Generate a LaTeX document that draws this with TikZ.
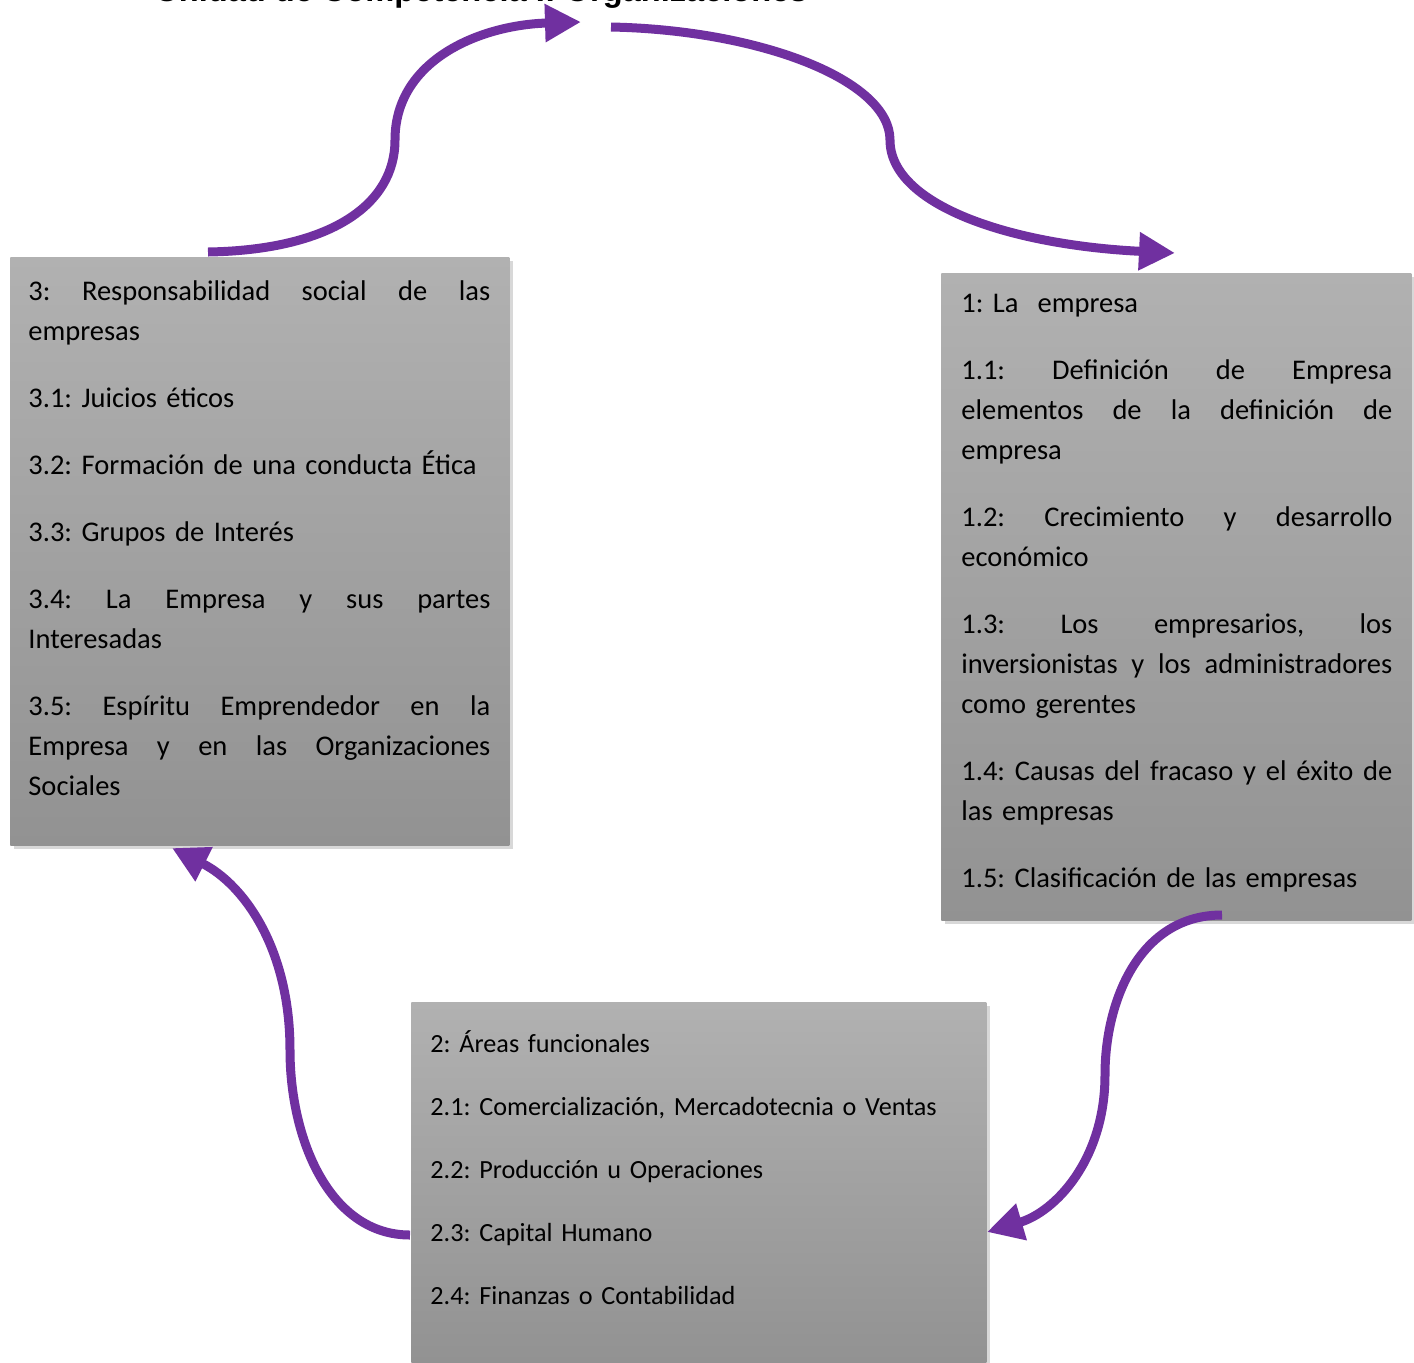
\documentclass[tikz,border=0pt]{standalone}
\usepackage{fontspec}
\setmainfont{Carlito}
\newfontfamily\titlefont{Liberation Sans}
\usetikzlibrary{arrows.meta,shadows}
\definecolor{arrowpurple}{HTML}{7030A0}
\definecolor{boxtop}{HTML}{B1B1B1}
\definecolor{boxbot}{HTML}{929292}
\newcommand{\jl}[2]{\makebox[#1][l]{\spaceskip=0.226em plus 1fill\relax#2}}
\begin{document}
\frenchspacing
\begin{tikzpicture}[x=0.5pt,y=-0.5pt,
  graybox/.style={draw=none, top color=boxtop, bottom color=boxbot, inner sep=0pt, anchor=north west,
    drop shadow={shadow xshift=2pt, shadow yshift=-2pt, opacity=0.3}},
  boxtext/.style={anchor=north west, inner sep=0pt, align=left, font=\fontsize{14.25}{20}\selectfont\frenchspacing},
  cyc/.style={draw=arrowpurple, line width=4.5pt, -{Triangle[length=18pt,width=18pt]}}]
\useasboundingbox (0,0) rectangle (1414,1362);
\fill[white] (0,0) rectangle (1414,1362);
% title (cut off at the top edge)
\node[anchor=base west, inner sep=0pt, font=\titlefont\bfseries\fontsize{16.3}{16}\selectfont] (title) at (155,1) {Unidad de Competencia I: Organizaciones};
% boxes
\node[graybox, minimum width=249.5pt, minimum height=294pt] (b3) at (10,257) {};
\node[graybox, minimum width=235pt, minimum height=323.5pt] (b1) at (941,273) {};
\node[graybox, minimum width=287.5pt, minimum height=180pt] (b2) at (411,1002) {};
% texts
\node[boxtext, text width=232pt] (t3) at (28,272) {\rule{0pt}{14pt}\jl{231pt}{3: Responsabilidad social de las}\\
empresas\\[13.5pt]
3.1: Juicios éticos\\[13.5pt]
3.2: Formación de una conducta Ética\\[13.5pt]
3.3: Grupos de Interés\\[13.5pt]
\jl{231pt}{3.4: La Empresa y sus partes}\\
Interesadas\\[13.5pt]
\jl{231pt}{3.5: Espíritu Emprendedor en la}\\
\jl{231pt}{Empresa y en las Organizaciones}\\
Sociales};
\node[boxtext, text width=216.5pt] (t1) at (961,284) {\rule{0pt}{14pt}1: La~ empresa\\[13.5pt]
\jl{215.5pt}{1.1: Definición de Empresa}\\
\jl{215.5pt}{elementos de la definición de}\\
empresa\\[13.5pt]
\jl{215.5pt}{1.2: Crecimiento y desarrollo}\\
económico\\[13.5pt]
\jl{215.5pt}{1.3: Los empresarios, los}\\
\jl{215.5pt}{inversionistas y los administradores}\\
como gerentes\\[13.5pt]
\jl{215.5pt}{1.4: Causas del fracaso y el éxito de}\\
las empresas\\[13.5pt]
1.5: Clasificación de las empresas};
\node[boxtext, text width=270pt, font=\fontsize{13.1}{31.5}\selectfont\frenchspacing] (t2) at (430,1024) {\rule{0pt}{14pt}2: Áreas funcionales\\
2.1: Comercialización, Mercadotecnia o Ventas\\
2.2: Producción u Operaciones\\
2.3: Capital Humano\\
2.4: Finanzas o Contabilidad};
% connector ends
\coordinate (a1s) at (208,252);
\coordinate (a1m) at (395,140);
\coordinate (a1e) at (581,22);
\coordinate (a2s) at (611,27);
\coordinate (a2m) at (890,140);
\coordinate (a2e) at (1175,253);
\coordinate (a3s) at (1222,915);
\coordinate (a3m) at (1105,1075);
\coordinate (a3e) at (987,1232);
\coordinate (a4s) at (410,1235);
\coordinate (a4m) at (290,1050);
\coordinate (a4e) at (172,848);
% arrows
\draw[cyc] (a1s) .. controls (330,250) and (395,205) .. (a1m) .. controls (395,60) and (480,25) .. (a1e);
\draw[cyc] (a2s) .. controls (760,30) and (890,80) .. (a2m) .. controls (890,205) and (1010,245) .. (a2e);
\draw[cyc] (a3s) .. controls (1140,915) and (1105,1000) .. (a3m) .. controls (1105,1160) and (1055,1212) .. (a3e);
\draw[cyc] (a4s) .. controls (330,1235) and (290,1140) .. (a4m) .. controls (290,950) and (245,885) .. (a4e);
\end{tikzpicture}
\end{document}
